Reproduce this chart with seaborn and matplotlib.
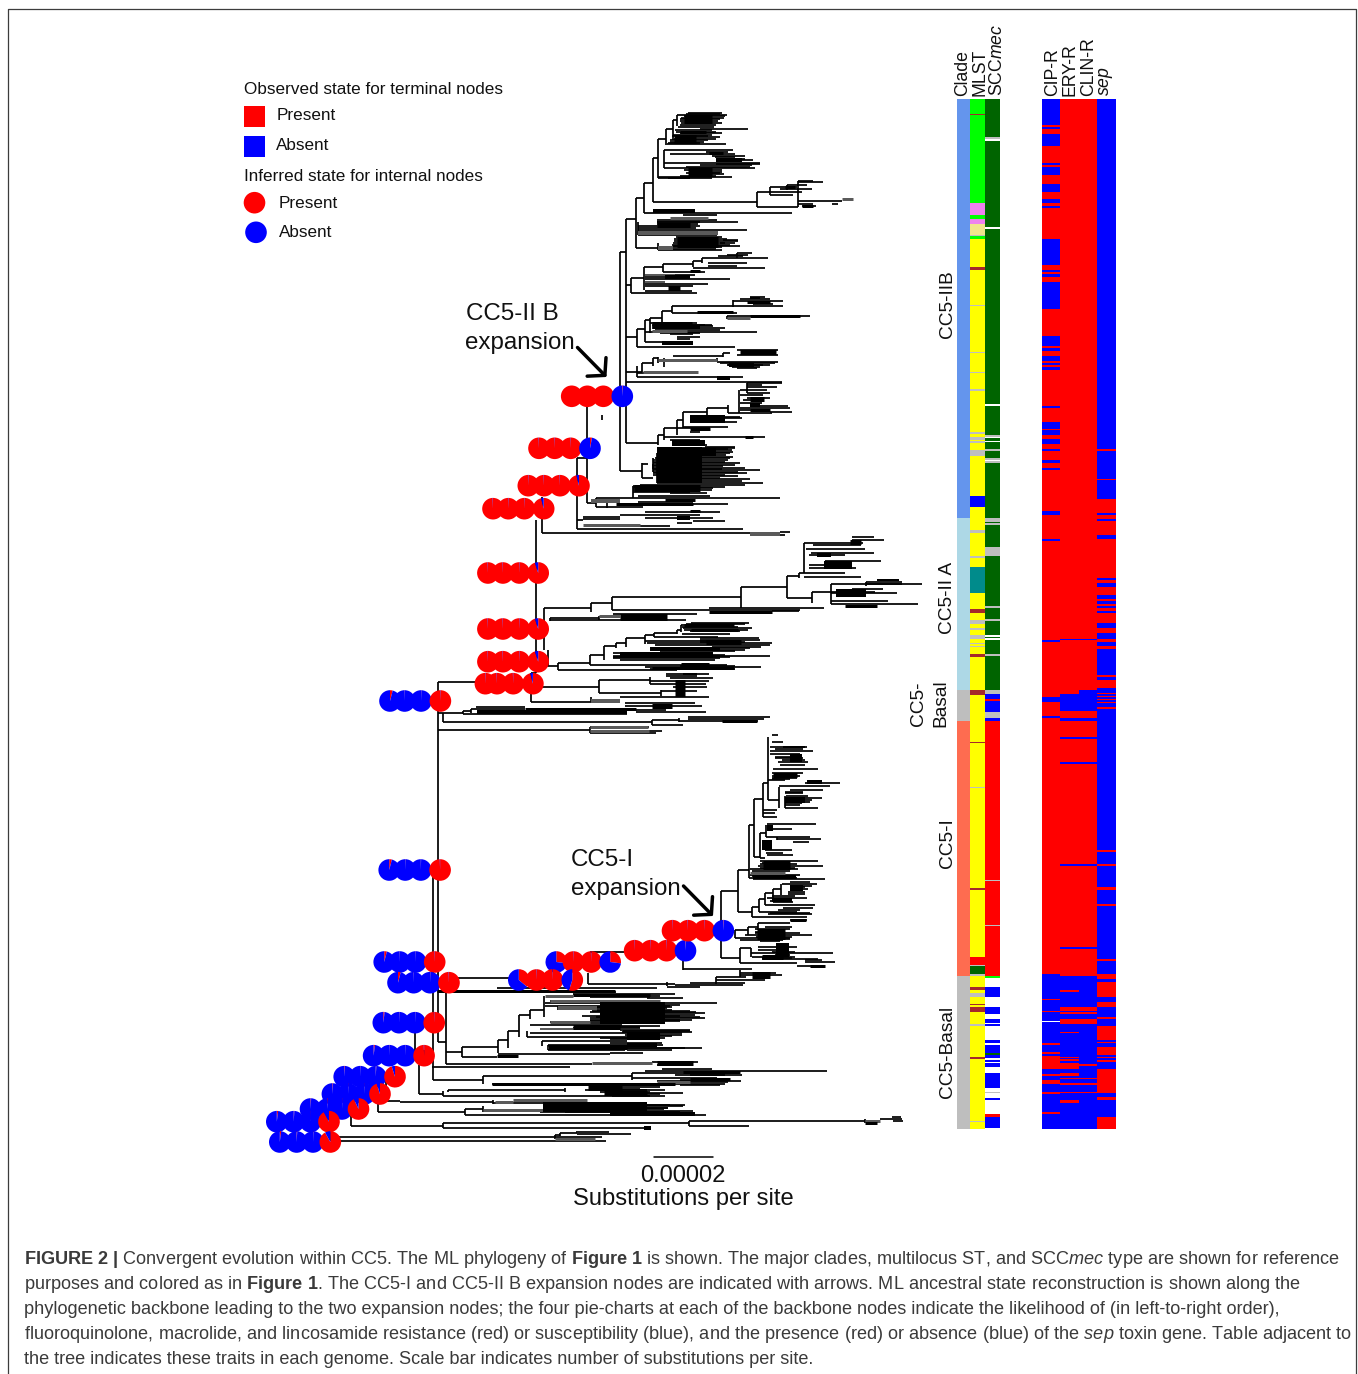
import numpy as np
import pandas as pd
import seaborn as sns
import matplotlib
matplotlib.use("Agg")
import matplotlib.pyplot as plt
from matplotlib.colors import ListedColormap
from matplotlib.patches import Wedge, Rectangle, Circle

# ---- annotation table: categories and bands (row ranges on the tree's vertical scale)
TABLE_TOP, TABLE_BOTTOM = 99, 1129
CATEGORIES = ["white", "cornflower", "lightblue", "gray", "tomato", "yellow", "lime", "brown",
              "violet", "khaki", "teal", "darkgreen", "red", "blue"]
CATEGORY_COLOURS = ["#ffffff", "#6495ed", "#add8e6", "#bebebe", "#fe6c50", "#ffff00", "#00ff00", "#a52a2a",
                    "#ee82ee", "#f0e68c", "#008b8b", "#006400", "#ff0000", "#0000ff"]

clade_bands = [(99, 518, "cornflower"), (518, 690, "lightblue"), (690, 721, "gray"), (721, 976, "tomato"), (976, 1129, "gray")]
mlst_bands = [(99, 203, "lime"), (113.5, 115, "brown"), (203, 215, "violet"), (215, 219, "lime"), (219, 223.5, "violet"),
              (223.5, 235, "khaki"), (235, 236, "gray"), (236, 239, "lime"), (267, 270, "brown"), (305, 306, "gray"),
              (352, 353, "gray"), (372, 373, "gray"), (389, 391, "gray"), (432, 434, "gray"), (437, 440, "gray"),
              (441, 443, "gray"), (450, 456, "gray"), (496, 507, "blue"), (530, 533, "gray"), (556, 558, "gray"),
              (567, 593, "teal"), (609, 613, "brown"), (620, 624, "gray"), (628, 630, "gray"), (635, 639, "gray"),
              (643, 644, "gray"), (646, 647, "gray"), (654, 657, "brown"), (690, 695, "brown"), (742, 743, "brown"),
              (787, 788, "gray"), (888, 890, "brown"), (957, 965, "red"), (965, 966, "gray"), (966, 974, "darkgreen"),
              (974, 976, "gray"), (987, 990, "brown"), (993, 997, "gray"), (1004, 1005, "brown"), (1007, 1012, "brown"),
              (1024, 1026, "gray"), (1057, 1059, "brown"), (1121, 1122.5, "gray")]
scc_bands = [(137, 139, "gray"), (139, 141, "white"), (227, 229, "white"), (404, 406, "white"), (435, 437, "gray"),
             (437, 438, "white"), (441, 442, "white"), (449, 451, "gray"), (458, 460, "gray"), (460, 461, "white"), (461, 463, "gray"),
             (518, 522, "gray"), (523, 525, "gray"), (547, 556, "gray"), (606, 608, "gray"), (619, 621, "gray"),
             (635, 637, "white"), (638, 640, "white"), (654, 656, "gray"), (690, 694, "gray"), (694, 699, "blue"),
             (699, 701, "red"), (701, 712, "blue"), (712, 718, "gray"), (718, 721, "blue"), (721, 976, "red"),
             (880, 881, "gray"), (925, 926, "gray"), (976, 978, "lime"), (978, 1129, "white"), (987, 997, "blue"),
             (1007, 1014, "blue"), (1019, 1023, "blue"), (1024, 1026, "blue"), (1040, 1043, "blue"), (1045, 1053, "blue"),
             (1053, 1055, "darkgreen"), (1055, 1058, "blue"), (1060, 1062, "blue"), (1063, 1067, "blue"),
             (1073, 1088, "blue"), (1092, 1093, "gray"), (1098, 1100, "blue"), (1114, 1117, "red"), (1117, 1128, "blue")]
cip_bands = [(99, 125, "blue"), (127, 129, "blue"), (134, 146, "blue"), (163, 165, "blue"), (167, 175, "blue"), (184, 192, "blue"),
             (199, 203, "blue"), (206, 208, "blue"), (239, 265, "blue"), (270, 272, "blue"), (274, 277, "blue"), (282, 309, "blue"),
             (336, 346, "blue"), (348, 351, "blue"), (356, 361, "blue"), (363, 365, "blue"), (367, 370, "blue"), (406, 408, "blue"),
             (422, 429, "blue"), (430, 435, "blue"), (439, 444, "blue"), (449, 451, "blue"), (460, 463, "blue"), (468, 470, "blue"),
             (511, 515, "blue"), (539, 541, "blue"), (640, 642, "blue"), (697, 702, "blue"), (716, 718, "blue"), (974, 975.5, "blue"),
             (976, 1129, "blue"), (999, 1000, "red"), (1011, 1012, "red"), (1021, 1022, "white"), (1043, 1045, "red"), (1052, 1054, "red"),
             (1056, 1069, "red"), (1074, 1076, "red"), (1080, 1084, "red"), (1092, 1093.5, "red"), (1112, 1114, "red")]
ery_bands = [(639, 640, "blue"), (694, 711, "blue"), (718, 721, "blue"), (737, 739, "blue"), (762, 764, "blue"), (864, 866, "blue"),
             (947, 949, "blue"), (976, 1129, "blue"), (990, 992, "red"), (1007, 1011, "red"), (1012, 1014, "red"), (1019, 1024, "red"),
             (1032, 1033, "red"), (1057, 1058, "red"), (1059, 1061, "red"), (1063, 1069, "red"), (1073, 1076, "red"), (1078, 1079, "red"),
             (1083, 1085, "red"), (1092, 1093, "red"), (1100, 1103, "red")]
clin_bands = [(639, 640, "blue"), (690, 711, "blue"), (718, 721, "blue"), (737, 739, "blue"), (762, 764, "blue"), (864, 866, "blue"),
              (947, 949, "blue"), (976, 1129, "blue"), (1007, 1011, "red"), (1012, 1014, "red"), (1019, 1024, "red"), (1064, 1066, "red"),
              (1078, 1079, "red"), (1083, 1085, "red"), (1092, 1093, "red")]
sep_bands = [(449, 451, "red"), (479, 480, "red"), (499, 513, "red"), (515, 519, "red"), (521, 535, "red"), (539, 578, "red"),
             (580, 583, "red"), (587, 595, "red"), (599, 601, "red"), (604, 606, "red"), (608, 611, "red"), (613, 623, "red"),
             (628, 633, "red"), (639, 642, "red"), (646, 649, "red"), (675, 677, "red"), (680, 688, "red"), (693, 694, "red"),
             (696, 697, "red"), (699, 700, "red"), (702, 703, "red"), (707, 709, "red"), (850, 852, "red"), (864, 866, "red"),
             (887, 890, "red"), (904, 906, "red"), (959, 961, "red"), (974, 979, "red"), (982, 997, "red"), (1002, 1007, "red"),
             (1017, 1019, "red"), (1026, 1040, "red"), (1042, 1043, "red"), (1047, 1055, "red"), (1057, 1058, "red"), (1060, 1062, "red"),
             (1069, 1093, "red"), (1097, 1100, "red"), (1117, 1129, "red")]
TABLE_LEFT_LABELS = ["Clade"]
TABLE_MID_LABELS = ["MLST", "SCC$\\mathit{mec}$"]
TABLE_RIGHT_LABELS = ["CIP-R", "ERY-R", "CLIN-R", "$\\mathit{sep}$"]

# ---- tree: vertical connectors (x, y0, y1)
branch_v = [(620, 252, 471), (625.7, 218.7, 442.7), (636, 198, 247.7), (644, 183, 213), (653, 157.7, 201.7), (658, 139, 178),
 (666, 129, 145), (673, 120, 138), (677, 115, 126), (664, 150, 168), (756.7, 191.7, 206.7), (770, 187, 195), (798, 181, 206.7), (787, 185, 190),
 (638, 222, 235), (658, 243, 250), (631, 277.7, 293.3), (644, 267, 290), (663, 264, 271.7), (693, 260.7, 266.7), (702, 258, 263), (737, 253, 258),
 (636.7, 329.3, 346.7), (645, 320, 341.7), (650, 318.3, 333.3), (661.7, 310.7, 323), (671.7, 306, 313.3), (733, 300, 306.7), (727, 316, 319),
 (636.7, 366, 376.7), (642.3, 363.3, 371.7), (653, 358, 366), (658, 356.7, 363), (723, 353, 357), (717, 358, 362), (664, 358, 367),
 (658.3, 435, 445), (664, 428, 440), (677.3, 420, 435), (682.7, 411.7, 428.3), (706.7, 408.3, 417), (728.3, 405, 412.7), (739.3, 390, 412.7), (747, 383.3, 392.7),
 (641.7, 463, 478), (653, 458, 472), (657, 453, 483), (633, 486, 498.3), (595.7, 498, 506.7), (587.3, 396, 503.3),
 (576.7, 458, 529), (541.7, 497, 533.3), (536, 520, 673), (601.7, 415, 420), (606.7, 503, 508),
 (544.3, 608.3, 650), (550.4, 618, 621), (590.7, 603.3, 611.7), (612, 596.7, 610), (741.4, 586.7, 608.3), (787.1, 576, 598.3), (798.6, 573.3, 578), (804, 543.3, 573.3),
 (812, 591.7, 603.3), (598.6, 616, 620), (830.7, 584, 604), (866.4, 581.7, 586),
 (548, 650, 666), (557.5, 662.7, 670), (589.6, 655, 665), (604.3, 646, 660), (616.4, 643.3, 648), (626.4, 638.3, 647), (645, 635, 644), (654, 632.7, 637.3), (677, 630, 634), (680.7, 625, 632),
 (598.6, 680, 693.3), (650.4, 676.7, 684), (661, 690, 696), (530.7, 673, 701.7), (591.4, 697, 702),
 (437.9, 681.7, 1041.7), (462.9, 711, 714), (471, 709.3, 712.7), (443.2, 712.7, 722.3), (652, 720, 725), (679, 717.7, 722), (589.6, 727.3, 733),
 (432.6, 870, 1080), (445.7, 993.3, 1064), (462.3, 1046.7, 1056.7), (497.7, 1040, 1053.3), (508.3, 1031, 1048.3), (519.3, 1015, 1036.7), (530, 1010, 1019), (544, 995.7, 1016.7),
 (526.7, 1031, 1037), (541.7, 1041, 1046), (548, 1045, 1050), (558.3, 1006, 1010),
 (588.3, 973, 984), (683.3, 960, 970), (716, 977, 984), (740, 970, 977), (666.7, 982, 986),
 (721.3, 891, 958.3), (737.7, 870, 911.7), (749.3, 825, 878.3), (754, 799.3, 856.7), (762.7, 783.3, 816.7), (768.3, 736.7, 800), (779.3, 786.7, 808.3), (785, 796, 808),
 (760, 833.3, 858.3), (766, 825, 836.7), (776.7, 836.7, 840), (751.7, 906.7, 916.7), (759.3, 899, 911.7), (765, 893.3, 905), (772.7, 889.3, 898), (780.7, 884, 895),
 (748.3, 926.7, 935), (758.3, 923.3, 930), (740, 948.3, 963.3), (751, 948.3, 957), (735, 930, 938.3),
 (419, 1065, 1094), (483.3, 1076, 1084), (631.7, 1072.7, 1080), (443.3, 1091, 1096), (448.3, 1090, 1092.3), (565, 1088, 1092), (493.3, 1100, 1104),
 (465, 1109.3, 1115), (483.3, 1106, 1111.7), (443.3, 1123.3, 1128.3), (689.3, 1121, 1126), (865, 1119, 1123), (555, 1135, 1139), (560, 1133, 1136),
 (386.3, 1076, 1100.7), (377.8, 1094, 1112.3), (350.5, 1109, 1126), (331, 1121, 1141), (424, 1050, 1056), (415, 1023, 1060)]

# ---- tree: horizontal branches and tips (y, x0, x1)
branch_h = [(252, 620, 625.7), (471, 620, 641.7), (218.7, 625.7, 636), (442.7, 625.7, 658), (198, 636, 644), (247.7, 636, 658), (183, 644, 653), (157.7, 653, 658),
 (139, 658, 666), (129, 666, 673), (120, 673, 677), (115, 677, 727), (113, 688, 722), (118, 681, 724), (128.7, 700, 748), (133, 680, 722), (137, 675, 720), (144, 667, 726),
 (150, 664, 733), (154, 670, 735), (157, 715, 735), (159, 717, 745), (160, 717, 753), (162.7, 664, 760), (165, 700, 752), (168, 664, 755), (171.7, 700, 722), (174, 690, 724), (177, 658, 732), (178, 658, 690),
 (201.7, 653, 756.7), (191.7, 756.7, 802), (187.3, 770, 797), (185, 787, 807), (189.3, 780, 812), (182.3, 798, 823), (181, 798, 813), (195, 770, 793),
 (206.7, 756.7, 798), (201, 798, 842), (203.5, 832, 838), (206, 802, 816), (204, 798, 813), (213, 644, 792), (215, 683, 717), (221.7, 657, 738), (220, 657, 717), (230, 638, 747), (235, 638, 717),
 (240, 723, 738), (245.7, 673, 740), (242.5, 720, 735), (250, 658, 722), (226, 638, 700),
 (285, 625.7, 631), (277.7, 631, 644), (293.3, 631, 697), (267.3, 644, 663), (264, 663, 693), (258.3, 702, 768), (256, 718, 743), (253.3, 737, 752), (255, 727, 748), (263.3, 708, 747), (265.7, 708, 737),
 (268.3, 693, 765), (271.7, 663, 705), (279.3, 645, 730), (284, 645, 708), (290.7, 645, 692), (275, 645, 695), (277, 645, 690), (286, 645, 693), (260.7, 693, 702),
 (337.3, 625.7, 636.7), (329.3, 636.7, 645), (320, 645, 650), (318.3, 650, 661.7), (310.7, 661.7, 671.7), (306, 671.7, 783), (296.7, 750, 765), (299, 740, 770), (301, 733, 783), (304, 753, 773),
 (313.3, 672, 737), (316, 727, 810), (323.3, 650, 697), (326, 652, 713), (328, 652, 725), (331.7, 645, 757), (334.3, 670, 693), (336.7, 677, 700), (339.3, 677, 690), (341.7, 645, 662), (346.7, 637, 735),
 (371.7, 625.7, 642), (363.3, 642.3, 653), (358, 653, 658), (356, 673, 723), (361.7, 717, 778), (353.3, 723, 730), (365, 727, 763), (367.7, 737, 757), (373.3, 637, 697), (376.7, 637, 743), (381.7, 625.7, 782),
 (383.3, 747, 782), (385, 747, 762), (386.7, 747, 777), (390, 740, 767), (392.7, 747, 770), (395, 740, 763), (397.7, 747, 770), (400, 743, 760), (402.7, 740, 762), (405.7, 753, 788), (407.7, 740, 790), (410, 740, 770), (411.7, 770, 792), (412.7, 728, 772),
 (411.7, 682.7, 706.7), (408.3, 706.7, 728.3), (417, 690, 740), (418.3, 690, 742), (421.7, 690, 737), (420, 677, 683), (426.7, 683, 728), (428.3, 664, 710), (432.3, 690, 700), (435, 658, 664), (436.7, 664, 765), (440, 670, 700),
 (445, 672, 707), (446.7, 705, 735), (450, 667, 732), (453.3, 657, 730), (456.7, 657, 733), (460, 653, 728), (462.7, 653, 740), (466, 652, 723), (470, 653, 760), (473.3, 653, 747), (476, 657, 738), (479.3, 657, 750), (483.3, 657, 763), (486, 633, 700), (488.3, 633, 713),
 (503.3, 587.3, 595.7), (498.3, 595.7, 780), (506.7, 595.7, 643), (496, 638, 710), (493, 670, 707), (502, 638, 693), (504, 693, 728), (464, 641.7, 648), (478, 641.7, 653),
 (516.7, 583, 620), (519.3, 583, 620), (515, 620, 700), (512, 645, 720), (518, 645, 713), (521, 693, 725), (523, 677, 692), (529, 576.7, 743), (526, 588, 670), (520, 576.7, 583), (533.3, 541.7, 750), (531.7, 780, 790), (535, 780, 785), (448.3, 576.7, 590), (458, 576.7, 587.3),
 (608.3, 544.3, 590.7), (618.3, 550.4, 598.6), (620, 550.4, 686), (614, 613, 697), (603.3, 590.7, 612), (610, 612, 800.4), (596.7, 612, 741.4), (611, 772, 798.6), (607.7, 709, 823.6), (586.7, 741.4, 787.1), (576, 787, 798.6), (573.3, 798.6, 845),
 (543.3, 804, 863), (536.7, 852, 873.6), (540, 852, 884), (545, 813, 861), (549, 806, 865), (552.7, 811, 873.6), (555, 809, 845), (561, 825.4, 880.7), (565, 809, 848), (567.7, 809, 856), (576.7, 804, 861), (598.3, 787, 812),
 (581.7, 866.4, 902), (584, 830.7, 902), (584.3, 866.4, 921.8), (591.7, 812, 875), (593.3, 830.7, 897), (600.7, 830.7, 888), (604, 830.7, 918), (588.5, 852, 883),
 (666, 544, 557.5), (662.7, 557.5, 589.6), (670, 557.5, 645), (655, 589.6, 604.3), (646, 604.3, 616.4), (643.3, 616.4, 626.4), (638.3, 626.4, 645), (635, 645, 654), (632.7, 654, 677), (637.3, 654, 718), (630, 677, 680.7),
 (623.3, 691.4, 748.6), (625, 680.7, 734), (628.3, 682.5, 752), (640.5, 645, 727), (638.3, 700, 759.3), (643.3, 647, 771.8), (646.7, 712, 761), (656, 613, 770), (658.3, 613, 720), (653.3, 613, 698.6), (665, 589.6, 727), (667.3, 645, 761), (670, 645, 677),
 (686.7, 536, 598.6), (680, 598.6, 650.4), (693.3, 598.6, 661), (674, 666.4, 709), (675.7, 666.4, 697), (678.3, 670, 713), (681, 650.4, 709), (684, 650.4, 705.7), (687, 673, 707), (690.7, 661, 697), (696.7, 620, 709), (701.7, 530.7, 591.4), (673, 530.7, 536),
 (682.3, 437.9, 475.4), (712.7, 437.9, 462.9), (711, 462.9, 471), (709.3, 471, 525), (707.3, 476.4, 525.4), (703.3, 625.4, 695), (705.7, 625.4, 702), (710, 636, 666), (712.3, 636, 705.7), (714, 462.9, 627),
 (722.3, 443.2, 652), (720, 652, 679), (716.7, 687.9, 770), (719, 688, 764), (720.7, 679, 757.5), (725, 652, 682.5), (730.3, 437.9, 589.6), (727.3, 589.6, 648.6), (733, 589.6, 655.7), (731, 649, 662),
 (1080, 432.6, 483.3), (978.3, 458, 510), (1041.7, 437.9, 445.7), (988.3, 497, 657), (991.7, 497, 615.7), (1064, 445.7, 591.7), (1062.3, 651.7, 698), (1065, 656.7, 688), (1052.3, 445.7, 462.3),
 (1046.7, 462.3, 497.7), (1056.7, 462.3, 497), (1054.3, 498.3, 610), (1053.3, 610, 643), (1040, 497.7, 508.3), (1031, 508.3, 519.3), (1015, 519.3, 530), (1010, 530, 544),
 (994.3, 573, 675), (998.3, 646.7, 683), (1003.3, 545, 716.7), (1001, 550, 660), (1006, 545, 670), (1008.3, 558.3, 666.7), (1013.3, 646.7, 705), (1016, 581.7, 680), (1020, 663, 680), (1022.3, 550, 590), (1024.5, 530, 622),
 (1031, 623, 690), (1033.3, 530, 681.7), (1036.7, 526.7, 660), (1041, 541.7, 626.7), (1045, 548.3, 663), (1048.3, 626.7, 701.7), (1050, 548, 625),
 (984, 588.3, 675), (951.7, 590, 624), (969.3, 683.3, 752), (972.5, 740, 776), (975, 740, 782), (977, 716, 746), (980, 716, 765), (983, 690, 745), (985, 675, 743), (986.5, 667, 700),
 (958.3, 721.3, 740), (891, 721.3, 737.7), (870, 737.7, 749.3), (911.7, 737.7, 751.7), (825, 749.3, 754), (799.3, 754, 762.7), (783.3, 762.7, 768.3),
 (734.7, 771.7, 778.3), (741.7, 771.7, 783.3), (746.7, 770, 806.7), (750.7, 770, 813), (754, 770, 800), (758.3, 775, 803), (762.3, 778.3, 808.3), (765, 780, 805), (769, 773.3, 818.3), (773.3, 771.7, 803), (777.7, 771.7, 796.7), (780, 768, 785),
 (800, 768.3, 779.3), (782.7, 805, 840), (786, 779, 830), (790, 790, 823), (793, 785, 803), (798.3, 785, 821.7), (801.7, 785, 810), (805, 785, 800), (807.7, 785, 818.3),
 (810, 762.7, 777), (813.3, 762.7, 775), (816.7, 762.7, 777), (833.3, 760, 766), (824.3, 766.7, 816), (829.3, 766.7, 791.7), (836.7, 766, 810), (839.3, 777.3, 820.7), (841.7, 793, 809),
 (850, 765, 791.7), (853.3, 766, 783), (855.3, 766.7, 793.3), (858.3, 760, 765), (856.7, 754, 760), (860.7, 760, 817.7), (866, 758.3, 823.3), (869.3, 750, 798.3), (875, 750, 800), (879.3, 753, 825), (878.3, 749.3, 753),
 (906.7, 751.7, 759.3), (899, 759.3, 765), (893.3, 765, 772.7), (889.3, 772.7, 780.7), (884, 781.7, 816.7), (881.7, 790, 810), (887.3, 790, 805), (891.7, 788, 805), (894.3, 788, 805), (898.3, 766.7, 806.7), (902, 773, 793), (905, 765, 815), (907.7, 783.3, 813.3), (911.7, 759.3, 797), (914, 768.3, 811.7), (916.7, 751.7, 806.7),
 (930, 735, 748.3), (926.7, 748.3, 758.3), (923.3, 758.3, 765), (922.7, 765, 790), (920, 790, 806.7), (926.7, 765, 792), (935, 745, 811.7), (938.3, 735, 790), (940, 740, 783),
 (948.3, 740, 751), (946.7, 758, 796.7), (950, 758, 780), (953.3, 751, 833.3), (956.7, 751.7, 795), (959, 762, 818), (963.3, 740, 796.7), (961.7, 805, 835), (960, 805, 822), (966, 797, 818),
 (1066.7, 432.3, 570), (1076, 483.3, 631.7), (1084, 491.7, 725), (1072.7, 631.7, 645), (1070.7, 645, 827.3), (1069.3, 661.7, 711.7), (1072.7, 645, 740), (1078.3, 631.7, 716.7), (1081, 656.7, 740.7),
 (1094, 419, 443.3), (1090, 448.3, 565), (1096, 443.3, 665), (1086.7, 621.7, 660), (1090.3, 613, 647), (1092.7, 605, 683.3), (1100.7, 386.3, 400), (1102, 400, 493.3), (1105, 600, 685), (1103, 493, 600),
 (1112.3, 377.8, 465), (1109.3, 465, 483.3), (1107.7, 641.7, 668.3), (1110.7, 641.7, 692.7), (1112.7, 651.7, 695), (1115, 465, 706),
 (1126, 350.5, 443.3), (1123.3, 443.3, 689.3), (1121, 689.3, 865), (1126, 689.3, 749.3), (1128.3, 443.3, 646.7), (1118.7, 880, 901.7), (1120.7, 893, 903), (1117.3, 891.7, 901),
 (1136.7, 331, 555), (1135, 555, 560), (1131.7, 576, 609.3), (1134.3, 576.7, 630.7), (1133, 560, 577), (1137.3, 555, 601.7), (1141, 331, 605.7)]

# ---- tree: closely packed tips in the crowded clades (y, x0, x1)
packed_tips = [(114, 686, 720), (116, 684, 725), (119, 680, 720), (121, 680, 718), (123, 681, 722), (125, 680, 716), (127, 678, 714), (130, 675, 712), (131.5, 676, 716), (134.5, 673, 712), (136, 672, 708), (138.5, 672, 716), (140, 670, 708), (141.5, 670, 704), (143, 668, 700),
 (152, 706, 728), (155.5, 712, 745), (163.5, 716, 760), (167, 686, 750), (169.5, 684, 722), (172.5, 686, 720), (175.5, 680, 716), (178, 668, 712),
 (222, 657, 700), (224, 657, 698), (227.5, 638, 696), (237, 676, 722), (239, 674, 727), (241, 674, 738), (243, 673, 725), (244.5, 672, 730), (246.5, 672, 722), (248.8, 660, 716),
 (324.5, 652, 705), (325, 655, 712), (329.5, 655, 720), (333, 660, 700), (349.8, 737, 778), (354.5, 737, 778), (363, 720, 775), (364.5, 728, 770), (366.5, 732, 760),
 (447.5, 662, 735), (449, 665, 728), (451.5, 660, 733), (455, 657, 726), (458, 655, 730), (461.5, 653, 725), (464.5, 652, 735), (467.8, 652, 745), (469, 653, 722), (471.7, 653, 738), (474.7, 653, 725), (477.7, 657, 720), (481, 657, 742), (484.7, 640, 745), (487, 634, 725), (490, 633, 712), (492, 633, 690),
 (624.3, 686, 745), (626.5, 682, 738), (629.5, 684, 748), (631, 690, 740), (633.5, 682, 730), (639.5, 700, 760), (641.5, 700, 745), (644.5, 655, 770), (647.5, 650, 750), (649.5, 655, 745), (651, 660, 735), (654.5, 620, 725), (657, 613, 730), (659.5, 620, 715), (666, 680, 735), (668.8, 650, 735),
 (995.5, 575, 660), (997, 590, 650), (1004.5, 600, 680), (1007, 590, 672), (1009.5, 597, 672), (1011, 592, 690), (1012.3, 590, 696), (1014.5, 600, 695), (1016.8, 596, 700), (1018, 590, 705), (1019.5, 590, 692), (1021, 590, 680), (1023, 585, 665), (1025.5, 575, 660),
 (1026.5, 580, 640), (1028, 573, 640), (1029.5, 620, 690), (1032, 622, 692), (1034.5, 625, 682), (1035.5, 627, 672), (1038, 600, 665), (1039, 610, 655), (1043, 610, 662), (1047.5, 627, 685), (1049.5, 627, 672),
 (1074.5, 675, 742), (1075, 690, 725), (1080, 680, 715), (1082, 660, 728), (1084.8, 680, 720), (1088.5, 590, 640), (1089.5, 585, 665), (1091.5, 600, 650), (1094.3, 612, 660), (1095.5, 612, 650),
 (1103.5, 600, 645), (1104.5, 545, 670), (1106, 560, 683), (1107.5, 545, 668), (1109, 545, 664), (1111.5, 565, 680), (1114.5, 610, 690), (1112, 540, 660),
 (929, 755, 790), (931.5, 755, 782), (933, 755, 800), (936.5, 756, 792), (938.7, 760, 790), (941, 760, 780), (952, 772, 795), (955, 775, 790), (957.7, 762, 792),
 (864, 760, 797), (862.5, 762, 785), (867.7, 760, 795), (871, 752, 790), (873, 752, 782), (876, 752, 790), (878, 754, 797), (748.5, 775, 803), (756.5, 775, 795), (760, 782, 805), (775.5, 772, 800), (779, 772, 790),
 (792, 785, 803), (796, 786, 808), (799.5, 785, 812), (803, 785, 802), (885.5, 790, 812), (889, 792, 808), (896, 772, 795), (900.5, 770, 790), (909.5, 778, 800), (912.5, 770, 810)]

# ---- tree: dense tip groups drawn as solid runs (y, x0, x1, thickness)
dense_black = [(119, 684, 712, 9), (139, 674, 696, 9), (132, 680, 706, 3), (172, 688, 712, 9), (160, 716, 742, 4), (153, 709, 723, 3), (225, 657, 690, 5),
 (241.5, 677, 718, 11), (187, 785, 795, 3), (206, 802, 813, 3), (211, 653, 695, 4), (352, 740, 776, 5), (316, 750, 800, 3), (323, 652, 692, 3), (327, 653, 700, 4), (343, 662, 693, 4),
 (365, 729, 754, 4), (378, 717, 730, 4), (271, 690, 700, 3), (277, 665, 690, 4), (288, 668, 680, 5), (311.7, 697, 733, 3), (302, 747, 770, 3), (298, 750, 760, 2),
 (399, 750, 764, 5), (405, 750, 760, 4), (410, 750, 770, 3), (419, 690, 725, 8), (429, 690, 710, 3), (437, 745, 753, 3), (443, 672, 705, 6),
 (465, 657, 702, 36), (452, 700, 716, 8), (488, 634, 700, 7), (503.5, 616, 693, 3), (500, 665, 695, 3), (518, 677, 690, 4), (511, 690, 700, 3),
 (541.7, 850, 861, 5), (555, 817, 831, 4), (565, 823.6, 852, 8), (580, 877, 899, 2), (593, 836, 866, 8), (606, 845, 877, 3), (612, 709, 772, 3), (617.3, 620, 667, 7), (625, 684, 734, 3), (630, 691, 738, 3),
 (642, 706, 741, 5), (649, 650, 720, 4), (655, 620, 713, 6), (665, 681, 709, 5), (667.5, 652, 734, 3), (674, 683, 697, 2), (688, 675, 685, 17), (706, 652, 672, 5), (709, 525, 636, 3), (712, 477, 627, 4), (720.7, 722, 757, 3),
 (991, 437, 615, 3), (995, 573, 650, 3), (1013, 600, 665, 22), (1007, 620, 665, 4), (1027, 573, 620, 5), (1036, 627, 660, 8), (1045, 627, 657, 4), (1046.7, 548, 627, 5), (1055.7, 497, 518, 3), (1062.5, 657, 693, 5),
 (975, 752, 770, 7), (746.7, 783, 805, 2), (758, 790, 802, 8), (775, 773, 797, 5), (781.7, 807, 822, 4), (800, 785, 805, 6), (828, 767, 773, 6), (845, 762, 772, 10), (865, 763, 790, 9), (877, 753, 796, 4),
 (888, 790, 803, 6), (900, 772, 792, 4), (920, 790, 806, 3), (934, 757, 785, 11), (950, 776, 789, 14), (956.5, 762, 783, 5), (966, 810, 825, 3),
 (1071.5, 683, 740, 3), (1078.5, 690, 730, 3), (1083.5, 491.7, 675, 3), (1087.5, 588, 622, 5), (1092.7, 604, 647, 5), (1107, 543, 647, 10), (1113.7, 610, 695, 4), (1128.3, 644, 650.7, 4), (1123, 865, 877, 3)]
dense_gray = [(218, 670, 708, 3), (232.7, 638, 718, 4), (247.7, 658, 673, 4), (275, 645, 675, 2), (282, 645, 665, 2), (330.7, 652, 687, 3), (318.3, 727, 750, 3), (360, 658, 717, 3), (371.7, 643, 698, 3), (199.3, 842, 853, 3),
 (534, 750, 780, 4), (525, 583, 640, 3), (500.7, 591, 620, 4), (616, 598.6, 620, 3), (700.7, 591.4, 620, 4), (727.3, 590, 648, 3), (731, 590, 649, 3), (1063.3, 591.7, 651.7, 3),
 (995.7, 545, 573, 3), (1001, 550, 660, 3), (1008.3, 558, 597, 4), (1022.3, 550, 590, 3), (1029, 540, 620, 2), (1048, 548, 627, 2), (873, 750, 785, 3), (1100, 513, 587, 3), (1101.7, 495, 513, 3), (1110, 483.3, 543, 3), (1081.5, 657, 690, 3), (1121, 865, 880, 3), (1139.3, 555, 595, 3)]

# ---- ML state reconstruction: node positions and share of "present" for CIP, ERY, CLIN, sep
pie_x = [(571.7, 587.3, 603.3, 622.3), (539, 554.7, 570.7, 590), (528.3, 544, 560, 579), (493, 508.3, 524.3, 543.7),
         (487.9, 502.9, 519.3, 538.2), (487.9, 502.9, 519.3, 538.2), (487.9, 502.9, 519.3, 538.2), (485.4, 497, 513.2, 532.9), (390, 404.6, 421, 440.4),
         (389.2, 405.2, 420.8, 440.1), (384.2, 399.7, 415.7, 434.7), (398, 413.6, 430, 449), (556.3, 573.5, 591.2, 610.2), (518.8, 536.5, 552.5, 572.3),
         (634.6, 650.6, 666.6, 685.5), (672.5, 688, 704.4, 723.4), (383.3, 399, 415, 434.2), (373.6, 389.2, 405.2, 424.1), (344.2, 360.2, 375.7, 395),
         (332.4, 348.4, 364.4, 380), (310.5, 327.3, 342, 358.5), (276.8, 293.7, 310.5, 329), (279.8, 296.6, 313, 330.3)]
pie_y = [396.3, 448.3, 485.7, 508.7, 573, 629, 661.7, 683.7, 701, 870, 962, 982.7, 962, 980, 950.7, 930.7, 1022.7, 1055.7, 1076.7, 1094, 1109, 1121.7, 1142]
pie_present = [(1, 1, 1, .01), (.995, .995, .995, .03), (.995, .995, .995, .96), (.995, .995, .995, .96),
               (.995, .995, .995, .95), (.995, .995, .995, .95), (.995, .995, .995, .95), (.995, .995, .995, .96), (.04, .005, .005, .995),
               (.04, .005, .005, .995), (.04, .005, .005, .995), (.04, .005, .005, .995), (.27, .995, .995, .27), (.36, .995, .995, .55),
               (.995, .995, .995, .01), (.995, .995, .995, .01), (.02, .005, .005, .995), (.02, .005, .005, .995), (.01, .005, .01, .95),
               (.01, .005, .005, .95), (.01, .01, .005, .93), (.02, .01, .005, .92), (.02, .01, .005, .92)]

CAPTION = [
    r"$\mathbf{FIGURE\ 2\ |}$ Convergent evolution within CC5. The ML phylogeny of $\mathbf{Figure\ 1}$ is shown. The major clades, multilocus ST, and SCC$\mathit{mec}$ type are shown for reference",
    r"purposes and colored as in $\mathbf{Figure\ 1}$. The CC5-I and CC5-II B expansion nodes are indicated with arrows. ML ancestral state reconstruction is shown along the",
    "phylogenetic backbone leading to the two expansion nodes; the four pie-charts at each of the backbone nodes indicate the likelihood of (in left-to-right order),",
    r"fluoroquinolone, macrolide, and lincosamide resistance (red) or susceptibility (blue), and the presence (red) or absence (blue) of the $\mathit{sep}$ toxin gene. Table adjacent to",
    "the tree indicates these traits in each genome. Scale bar indicates number of substitutions per site.",
]

# ---- figure
sns.set_theme(style="white")
plt.rcParams["font.family"] = ["Liberation Sans", "DejaVu Sans"]
plt.rcParams["mathtext.fontset"] = "custom"
plt.rcParams["mathtext.rm"] = "Liberation Sans"
plt.rcParams["mathtext.it"] = "Liberation Sans:italic"
plt.rcParams["mathtext.bf"] = "Liberation Sans:bold"

W, H = 1358, 1374
fig = plt.figure(figsize=(W / 100, H / 100), dpi=100, facecolor="white")
RED, BLUE = "#ff0000", "#0000ff"

idx = {c: i for i, c in enumerate(CATEGORIES)}
cmap = ListedColormap(CATEGORY_COLOURS)

def column(base, bands):
    rows = np.full(TABLE_BOTTOM - TABLE_TOP, idx[base])
    for a, b, cat in bands:
        rows[int(round(a)) - TABLE_TOP:int(round(b)) - TABLE_TOP] = idx[cat]
    return rows

def table_axes(x0, x1, columns, names):
    a = fig.add_axes([x0 / W, 1 - TABLE_BOTTOM / H, (x1 - x0) / W, (TABLE_BOTTOM - TABLE_TOP) / H])
    frame = pd.DataFrame(dict(zip(names, columns)))
    sns.heatmap(frame, ax=a, cmap=cmap, vmin=-.5, vmax=len(CATEGORIES) - .5, cbar=False, xticklabels=False, yticklabels=False)
    a.set_xlabel(""); a.set_ylabel("")
    return a

table_axes(957, 970, [column("white", clade_bands)], TABLE_LEFT_LABELS)
table_axes(970, 1000, [column("yellow", mlst_bands), column("darkgreen", scc_bands)], TABLE_MID_LABELS)
table_axes(1042, 1115.5, [column("red", cip_bands), column("red", ery_bands), column("red", clin_bands), column("blue", sep_bands)], TABLE_RIGHT_LABELS)

ax = fig.add_axes([0, 0, 1, 1], facecolor="none")
ax.set_xlim(0, W); ax.set_ylim(H, 0); ax.axis("off")

# frame
ax.plot([8, 8, 1356, 1356], [H, 9, 9, H], color="#3c3c3c", lw=0.9, solid_capstyle="butt")

# tree
LW = 1.25
vx, vy0, vy1 = zip(*branch_v)
ax.vlines(vx, vy0, vy1, color="black", lw=LW, zorder=2)
hy, hx0, hx1 = zip(*branch_h)
ax.hlines(hy, hx0, hx1, color="black", lw=LW, zorder=2)
py, px0, px1 = zip(*packed_tips)
ax.hlines(py, px0, px1, color="black", lw=LW, zorder=2)
for rows, col in ((dense_gray, "#5a5a5a"), (dense_black, "black")):
    y, x0, x1, t = zip(*rows)
    ax.hlines(y, x0, x1, color=col, lw=np.array(t) * .72, zorder=2, capstyle="butt")

# pies
R = 10.8
for xs, y, shares in zip(pie_x, pie_y, pie_present):
    for x, s in zip(xs, shares):
        ax.add_patch(Wedge((x, y), R, -90, -90 + 360 * s, color=RED, lw=0, zorder=3))
        ax.add_patch(Wedge((x, y), R, -90 + 360 * s, 270, color=BLUE, lw=0, zorder=3))

# arrows
for tail, tip in (((577.5, 347.5), (606.5, 377)), ((683.5, 886), (713, 916))):
    ax.annotate("", xy=tip, xytext=tail, zorder=4,
                arrowprops=dict(arrowstyle="->,head_length=0.85,head_width=0.95", lw=2.5, color="black", shrinkA=0, shrinkB=0, mutation_scale=10))
ax.text(465.5, 314, "CC5-II B", fontsize=17.4, ha="left", va="center", color="#111111")
ax.text(465.5, 343.5, "expansion", fontsize=17.4, ha="left", va="center", color="#111111")
ax.text(570.5, 859.5, "CC5-I", fontsize=17.4, ha="left", va="center", color="#111111")
ax.text(570.5, 888.5, "expansion", fontsize=17.4, ha="left", va="center", color="#111111")

# scale bar
ax.plot([654, 713], [1157, 1157], color="black", lw=1.1)
ax.text(683, 1175.5, "0.00002", fontsize=17.1, ha="center", va="center", color="#111111")
ax.text(683, 1199, "Substitutions per site", fontsize=17.15, ha="center", va="center", color="#111111")

# legend
LEG = 12.3
ax.text(244, 89, "Observed state for terminal nodes", fontsize=LEG, va="center", color="#111111")
ax.add_patch(Rectangle((243.5, 105.7), 21.2, 21, color=RED, lw=0))
ax.text(277, 116, "Present", fontsize=LEG, va="center", color="#111111")
ax.add_patch(Rectangle((243.5, 136), 21.2, 21, color=BLUE, lw=0))
ax.text(276, 146, "Absent", fontsize=LEG, va="center", color="#111111")
ax.text(244.5, 176.5, "Inferred state for internal nodes", fontsize=LEG, va="center", color="#111111")
ax.add_patch(Circle((254.5, 202.7), 10.8, color=RED, lw=0))
ax.text(278.5, 203, "Present", fontsize=LEG, va="center", color="#111111")
ax.add_patch(Circle((256, 232.3), 10.8, color=BLUE, lw=0))
ax.text(279, 232.5, "Absent", fontsize=LEG, va="center", color="#111111")

# clade labels
for x, y, s in ((947.5, 304, "CC5-IIB"), (947.5, 598, "CC5-II A"), (918.5, 703.5, "CC5-"), (941, 703.5, "Basal"),
                (947.5, 843, "CC5-I"), (947.5, 1052, "CC5-Basal")):
    ax.text(x, y, s, rotation=90, fontsize=13.8, ha="center", va="center", color="#111111")

# table headers
for x, s in zip((963, 980, 997, 1053, 1070, 1089, 1106),
                TABLE_LEFT_LABELS + TABLE_MID_LABELS + TABLE_RIGHT_LABELS):
    ax.text(x, 96, s, rotation=90, fontsize=12.7, ha="center", va="bottom", color="#111111")

# caption
for y, line in zip((1264, 1289, 1314, 1339, 1364), CAPTION):
    ax.text(24, y, line, fontsize=13.03, ha="left", va="baseline", color="#3a3a3a")

fig.savefig("out.png", dpi=100, facecolor="white")
